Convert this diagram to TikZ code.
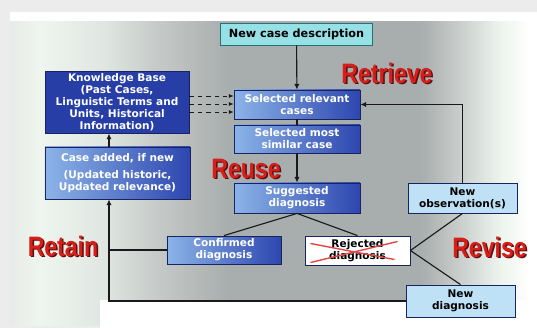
\documentclass[tikz,border=0pt]{standalone}
\usepackage{fontspec}
\setmainfont{DejaVu Sans}
\newfontfamily\stagefont{Liberation Sans}
\usepackage{tikz}
\usetikzlibrary{arrows.meta}
\usetikzlibrary{positioning}
\definecolor{pagegray}{RGB}{236,236,236}
\definecolor{paneledge}{RGB}{232,235,232}
\definecolor{panelleft}{RGB}{238,245,238}
\definecolor{panelpale}{RGB}{224,230,226}
\definecolor{panelsoft}{RGB}{198,203,201}
\definecolor{panelmid}{RGB}{168,173,173}
\definecolor{panelfade}{RGB}{204,209,207}
\definecolor{panelright}{RGB}{236,243,237}
\definecolor{tealfill}{RGB}{150,225,230}
\definecolor{tealedge}{RGB}{40,110,120}
\definecolor{kbblue}{RGB}{38,62,165}
\definecolor{navyedge}{RGB}{25,35,95}
\definecolor{shadelight}{RGB}{140,180,232}
\definecolor{shadedark}{RGB}{45,70,175}
\definecolor{obsfill}{RGB}{190,225,245}
\definecolor{stagered}{RGB}{215,30,25}
\definecolor{stageshade}{RGB}{90,15,15}
\definecolor{crossred}{RGB}{225,70,70}
\definecolor{linkgray}{RGB}{25,25,25}
\pgfdeclarehorizontalshading{panelshade}{100bp}{color(0bp)=(paneledge);
  color(25bp)=(paneledge); color(28bp)=(panelleft); color(34bp)=(panelpale);
  color(39bp)=(panelsoft); color(46bp)=(panelmid); color(64.5bp)=(panelmid);
  color(68.5bp)=(panelfade); color(72bp)=(panelright); color(75bp)=(white);
  color(100bp)=(white)}

\begin{document}
\begin{tikzpicture}[x=0.025cm,y=-0.025cm,
    box/.style={draw=navyedge,line width=0.6pt,inner sep=1pt,align=center,
      font=\fontsize{7.5}{8.6}\selectfont\bfseries},
    shadebox/.style={box,left color=shadelight,right color=shadedark,text=white},
    lightbox/.style={box,fill=obsfill,text=black},
    link/.style={line width=0.8pt,draw=linkgray},
    arrowlink/.style={link,-{Latex[length=1.4mm,width=1.3mm]}},
    kblink/.style={linkgray,dashed,line width=0.5pt,-{Latex[length=1.2mm,width=1mm]}},
    stage/.style={font=\stagefont\fontsize{20}{20}\selectfont\bfseries,
      text=stagered,xscale=0.82,inner sep=0pt},
    stageback/.style={stage,text=stageshade}]
    \useasboundingbox (0,0) rectangle (537,328);
    % background
    \fill[pagegray] (0,0) rectangle (537,328);
    \fill[white] (10,12) rectangle (537,325);
    \shade[shading=panelshade] (10,22) rectangle (530,325);
    \fill[white] (100,300) rectangle (537,328);

    % boxes
    \node[box,fill=tealfill,draw=tealedge,minimum width=3.78cm,minimum height=0.55cm,
      font=\fontsize{8}{9}\selectfont\bfseries] (newcase) at (296.5,34) {New case description};
    \node[box,fill=kbblue,text=white,minimum width=3.6cm,minimum height=1.53cm]
      (kb) at (117,102.5) {Knowledge Base\\(Past Cases,\\Linguistic Terms and\\Units, Historical\\Information)};
    \node[shadebox,minimum width=3.15cm,minimum height=0.725cm]
      (relevant) at (297,104.5) {Selected relevant\\cases};
    \node[shadebox,minimum width=3.15cm,minimum height=0.7cm]
      (similar) at (297,139) {Selected most\\similar case};
    \node[shadebox,minimum width=3.15cm,minimum height=0.75cm]
      (suggested) at (297,198) {Suggested\\diagnosis};
    \node[shadebox,minimum width=3.625cm,minimum height=1.3cm]
      (casead) at (117.5,173) {Case added, if new\\[4pt](Updated historic,\\Updated relevance)};
    \node[lightbox,minimum width=2.725cm,minimum height=0.75cm]
      (newobs) at (462.5,198) {New\\observation(s)};
    \node[shadebox,minimum width=2.85cm,minimum height=0.7cm]
      (confirmed) at (224,250) {Confirmed\\diagnosis};
    \node[box,fill=white,minimum width=2.625cm,minimum height=0.725cm]
      (rejected) at (357.5,250.5) {Rejected\\diagnosis};
    \node[lightbox,minimum width=2.725cm,minimum height=0.8cm]
      (newdiag) at (460.5,301) {New\\diagnosis};
    \draw[crossred,line width=1pt] ([shift={(-47,12)}]rejected.center) -- ([shift={(40,-9)}]rejected.center);
    \draw[crossred,line width=1pt] ([shift={(-47,-7)}]rejected.center) -- ([shift={(37,9)}]rejected.center);

    % stage names
    \foreach \t/\x/\y in {Retrieve/387/73, Reuse/246/168.5, Retain/63/246, Revise/489.5/247}{
      \node[stageback] (\t-s) at (\x+1.5,\y+1.5) {\t};
      \node[stage] (\t) at (\x,\y) {\t};}

    % connectors
    \draw[arrowlink] (newcase) -- (relevant);
    \draw[link] (relevant) -- (similar);
    \draw[arrowlink] (similar) -- (suggested);
    \draw[link] (suggested.south) -- (confirmed.north);
    \draw[link] (suggested.south) -- (rejected.north);
    \draw[link] (rejected.east) -- (newobs.south);
    \draw[link] (rejected.east) -- (newdiag.north);
    \draw[arrowlink] (newobs.north) |- (relevant.east);
    \coordinate (retx) at (109,300);
    \draw[arrowlink] (newdiag.west) -| (casead.south -| retx);
    \draw[link] (confirmed.west) -- (confirmed.west -| retx);
    \draw[arrowlink] (casead.north -| retx) -- (kb.south -| retx);
    \foreach \y in {96,104,112}{
      \coordinate (kbrow) at (0,\y);
      \draw[kblink] (kb.east |- kbrow) -- (relevant.west |- kbrow);}
  \end{tikzpicture}
\end{document}
